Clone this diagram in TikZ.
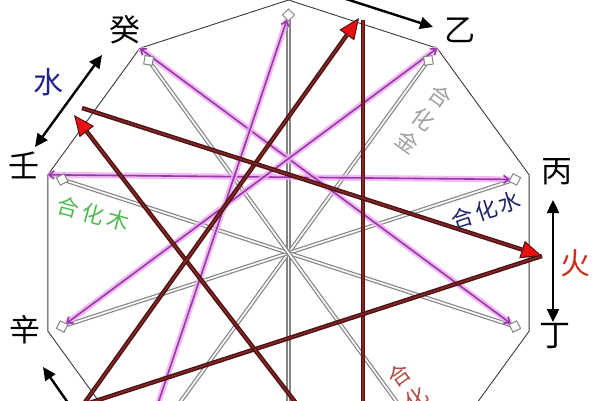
\documentclass[tikz,border=0pt]{standalone}
\usepackage{fontspec}
\newfontfamily\cjk{Noto Sans CJK SC}
\usetikzlibrary{arrows.meta,calc}
\definecolor{edgec}{HTML}{3A3A3A}
\definecolor{grayl}{HTML}{858585}
\definecolor{magc}{RGB}{150,55,170}
\definecolor{glowc}{RGB}{238,170,238}
\definecolor{maroonc}{RGB}{78,18,18}
\definecolor{maroonin}{RGB}{135,40,40}
\definecolor{headred}{RGB}{235,15,15}
\definecolor{waterc}{RGB}{35,35,140}
\definecolor{firec}{RGB}{205,45,30}
\definecolor{woodc}{RGB}{80,185,80}
\definecolor{navyc}{RGB}{30,35,100}
\definecolor{metalc}{RGB}{160,160,160}
\definecolor{firetxt}{RGB}{175,75,65}
\tikzset{
  edgeline/.style={draw=edgec, line width=0.9pt, line join=miter},
  hehua/.style={draw=grayl, line width=1.2pt, double={rgb,255:red,250;green,250;blue,250}, double distance=1.7pt},
  marker/.style={draw=grayl, fill=white, line width=1pt, minimum size=8.5pt, inner sep=0pt, rectangle},
  keline/.style={draw=maroonc, line width=4.4pt, postaction={draw=maroonin, line width=1.4pt, arrows=-}},
  kearrow/.style={draw=maroonc, line width=4.4pt, -{Triangle[length=21pt,width=18pt,fill=headred,line width=1pt]}, postaction={draw=maroonin, line width=1.4pt, arrows=-, shorten >=19pt}},
  chong/.style={draw=magc, line width=1.6pt, {Straight Barb[length=5pt,width=8pt]}-{Straight Barb[length=5pt,width=8pt]}, preaction={draw=glowc, line width=6pt, arrows=-, opacity=0.8}},
  bigarrow/.style={draw=black, line width=2.4pt},
  bhead/.style={-{Triangle[length=13pt,width=12pt]}},
  bheads/.style={{Triangle[length=13pt,width=12pt]}-{Triangle[length=13pt,width=12pt]}},
  stem/.style={font=\cjk\fontsize{31}{31}\selectfont, inner sep=0pt},
  elem/.style={font=\cjk\fontsize{30}{30}\selectfont, inner sep=0pt},
  hh/.style={font=\cjk\fontsize{22}{28}\selectfont, inner sep=0pt}
}
\begin{document}
\begin{tikzpicture}[x=1pt,y=1pt]
\useasboundingbox (0,0) rectangle (600,400);
\clip (0,0) rectangle (600,400);
\fill[white] (0,0) rectangle (600,400);
\coordinate (C) at (288.5,147);
\foreach \n/\a in {jia/90, yi/54, bing/18, ding/-18, wu/-54, ji/-90, geng/-126, xin/-162, ren/162, gui/126} {
  \coordinate (V-\n) at ($(C)+(\a:253)$);
  \coordinate (P-\n) at ($(C)+(\a:238)$);
}
% decagon
\draw[edgeline] (V-jia) -- (V-yi) -- (V-bing) -- (V-ding) -- (V-wu) -- (V-ji) -- (V-geng) -- (V-xin) -- (V-ren) -- (V-gui) -- cycle;
% gray diameters
\foreach \a/\b in {jia/ji, yi/geng, bing/xin, ding/ren, wu/gui}
  \draw[hehua] (P-\a) -- (P-\b);
% magenta lines
\draw[chong, shorten <=5pt] (P-bing) -- (V-ren);
\draw[chong, shorten <=5pt] (P-ding) -- (V-gui);
\draw[chong, shorten <=5pt] (P-xin) -- (V-yi);
\draw[chong, shorten >=5pt] (V-geng) -- (P-jia);
% dark red cycle
\coordinate (kWaterA) at (74,285);
\coordinate (kWaterB) at (82,292);
\coordinate (kFire) at (542,144);
\coordinate (kWoodA) at (359,382);
\coordinate (kWoodB) at (363,380);
\coordinate (kEarth) at (363,-90);
\coordinate (kMetal) at (83,-5);
\draw[keline] (kWoodB) -- (kEarth);
\draw[keline] (kFire) -- (kMetal);
\draw[kearrow] (kEarth) -- (kWaterA);
\draw[kearrow] (kMetal) -- (kWoodA);
\draw[kearrow] (kWaterB) -- (kFire);
% markers
\foreach \n/\a in {jia/90, yi/54, bing/18, ding/-18, wu/-54, ji/-90, geng/-126, xin/-162, ren/162, gui/126}
  \node[marker, rotate=\a+45] (M-\n) at (P-\n) {};
% black element arrows
\coordinate (aw1) at (35,253);
\coordinate (aw2) at (102,345);
\coordinate (af1) at (553,200);
\coordinate (af2) at (553,78);
\coordinate (am1) at (318,410);
\coordinate (am2) at (433,373);
\coordinate (aj1) at (80,-20);
\coordinate (aj2) at (43,33);
\draw[bigarrow, bheads] (aw1) -- (aw2);
\draw[bigarrow, bheads] (af1) -- (af2);
\draw[bigarrow, bhead] (am1) -- (am2);
\draw[bigarrow, bhead] (aj1) -- (aj2);
% stems
\node[stem] (t-gui) at (125,370) {癸};
\node[stem] (t-yi) at (460,370) {乙};
\node[stem] (t-bing) at (557,228) {丙};
\node[stem] (t-ding) at (555,64) {丁};
\node[stem] (t-xin) at (25,70) {辛};
\node[stem] (t-ren) at (24,235) {壬};
% elements
\node[elem, text=waterc] (t-shui) at (48,318) {水};
\node[elem, text=firec] (t-huo) at (575,137) {火};
% he hua labels
\node[hh, text=woodc, rotate=-15] (h-mu) at (93,186) {合\hspace{4pt}化\hspace{4pt}木};
\node[hh, text=navyc, rotate=18] (h-shui) at (486,190) {合\hspace{3pt}化\hspace{3pt}水};
\node[hh, text=metalc, rotate=-36, align=center] (h-jin) at (424,281) {合\\化\\金};
\node[hh, text=firetxt, rotate=36, align=center] (h-huo) at (416,2) {合\\化\\火};
\end{tikzpicture}
\end{document}
